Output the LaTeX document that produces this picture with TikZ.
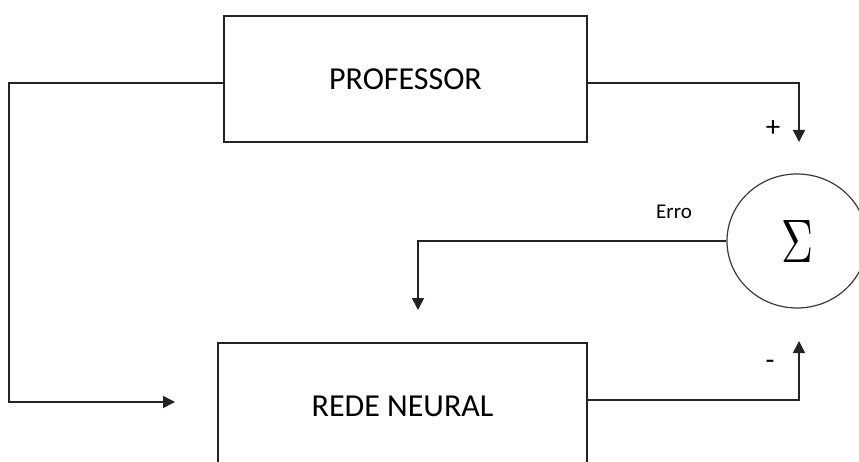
\documentclass[tikz,border=0pt]{standalone}
\usepackage{fontspec}
\usepackage{graphicx}
\setmainfont{Carlito}
\usetikzlibrary{arrows.meta,shapes.geometric}

\definecolor{ink}{RGB}{35,35,35}

\tikzset{
  blockbox/.style={draw=ink, line width=1.6pt, rectangle, inner sep=0pt,
    minimum width=#1, minimum height=126pt, font=\fontsize{32}{36}\selectfont},
  sumnode/.style={draw=ink!90, line width=1.2pt, ellipse, inner sep=0pt,
    minimum width=140pt, minimum height=134pt},
  wire/.style={draw=ink, line width=1.6pt},
  flow/.style={wire, -{Triangle[length=12pt,width=12pt]}},
  smalltext/.style={font=\fontsize{21}{24}\selectfont, inner sep=0pt},
  signtext/.style={font=\fontsize{29}{32}\selectfont, inner sep=0pt}
}

\begin{document}
\begin{tikzpicture}[x=1pt, y=-1pt]
  % canvas: 859 x 462, origin top-left
  \useasboundingbox (0,0) rectangle (859,462);
  \clip (0,0) rectangle (859,462);

  % blocks
  \node[blockbox=363pt] (prof) at (405.5,79) {PROFESSOR};
  \node[blockbox=369pt] (rede) at (402.5,406) {REDE NEURAL};
  \node[sumnode] (sum) at (797,241) {\resizebox*{32pt}{42pt}{$\Sigma$}};

  % arrow end points
  \coordinate (plusin) at (799,142);
  \coordinate (minusin) at (799,341);
  \coordinate (netin) at (175,402);
  \coordinate (errin) at (418,310);

  % desired response into the summing junction
  \draw[flow] ([yshift=-4pt]prof.east) -| (plusin);
  % network output into the summing junction
  \draw[flow] ([yshift=6pt]rede.east) -| (minusin);
  % input fed to both teacher and network
  \draw[flow] ([yshift=-4pt]prof.west) -- ++(-214,0) |- (netin);
  % error signal back to the network
  \draw[flow] (sum.west) -| (errin);

  % signs and labels
  \node[signtext] (plus) at (773,129) {+};
  \node[signtext] (minus) at (770,365) {-};
  \node[smalltext] (erro) at (674,212) {Erro};
\end{tikzpicture}
\end{document}
